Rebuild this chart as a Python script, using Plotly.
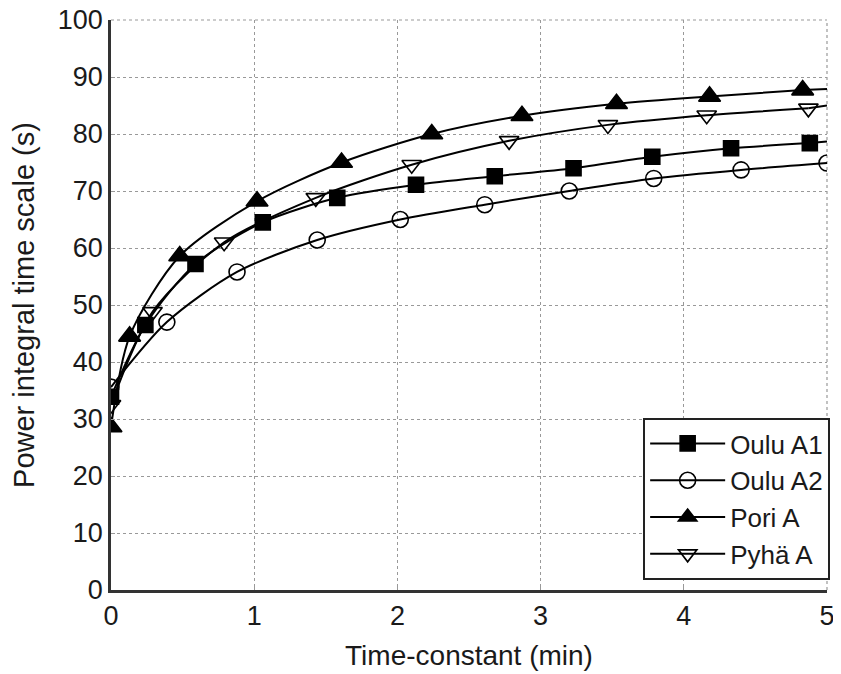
import plotly.graph_objects as go

# Data
a1_x = [0.0, 0.24, 0.59, 1.06, 1.58, 2.13, 2.68, 3.23, 3.78, 4.33, 4.88]
a1_y = [33.9, 46.5, 57.2, 64.5, 68.8, 71.1, 72.6, 74.0, 76.0, 77.5, 78.4]
a2_x = [0.0, 0.39, 0.88, 1.44, 2.02, 2.61, 3.20, 3.79, 4.40, 5.0]
a2_y = [35.6, 47.0, 55.8, 61.4, 65.0, 67.6, 70.0, 72.2, 73.7, 74.9]
pori_x = [0.0, 0.13, 0.48, 1.02, 1.61, 2.24, 2.87, 3.53, 4.18, 4.83]
pori_y = [28.6, 44.5, 58.6, 68.2, 75.0, 80.0, 83.2, 85.3, 86.6, 87.7]
pyha_x = [0.0, 0.29, 0.79, 1.43, 2.10, 2.78, 3.47, 4.16, 4.87]
pyha_y = [32.5, 48.8, 61.0, 68.8, 74.6, 78.8, 81.6, 83.3, 84.5]

# curve values at the right edge (x = 5)
end_x = 5.0
a1_end = 78.7
pori_end = 87.9
pyha_end = 85.0

x_ticks = [0, 1, 2, 3, 4, 5]
y_ticks = [0, 10, 20, 30, 40, 50, 60, 70, 80, 90, 100]

series = [
    ("Oulu A1", a1_x, a1_y, a1_end, "square", "black", 15),
    ("Oulu A2", a2_x, a2_y, None, "circle-open", "black", 16),
    ("Pori A", pori_x, pori_y, pori_end, "triangle-up", "black", 19),
    ("Pyhä A", pyha_x, pyha_y, pyha_end, "triangle-down-open", "black", 17),
]

fig = go.Figure()
for name, xs, ys, end_y, sym, col, size in series:
    fig.add_trace(go.Scatter(
        x=xs, y=ys, name=name, mode="lines+markers",
        line=dict(color="black", width=2, shape="spline", smoothing=0.8),
        marker=dict(symbol=sym, size=size, color=col,
                    line=dict(color="black", width=1.6)),
    ))
    if end_y is not None:
        fig.add_trace(go.Scatter(
            x=[xs[-1], end_x], y=[ys[-1], end_y], mode="lines",
            line=dict(color="black", width=2), showlegend=False,
            hoverinfo="skip",
        ))

grid_col = "#999"
font_family = "Liberation Sans, Arial, sans-serif"
fig.update_layout(
    width=833, height=666,
    margin=dict(l=103, r=13, t=12, b=84),
    paper_bgcolor="white", plot_bgcolor="white",
    font=dict(family=font_family, size=27, color="#1a1a1a"),
    showlegend=True,
    legend=dict(
        x=1.003, y=0.0175, xanchor="right", yanchor="bottom",
        bgcolor="white", bordercolor="#222", borderwidth=2,
        font=dict(size=26, color="#1a1a1a"),
        tracegroupgap=0, itemwidth=75,
    ),
)
# dotted frame lines at the top and right edges (like the grid)
fig.add_shape(type="line", xref="paper", yref="paper", x0=0, x1=1, y0=1, y1=1,
              line=dict(color=grid_col, width=1.2, dash="dot"), layer="below")
fig.add_shape(type="line", xref="paper", yref="paper", x0=1, x1=1, y0=0, y1=1,
              line=dict(color=grid_col, width=1.2, dash="dot"), layer="below")
fig.update_xaxes(
    range=[0, 5], tickvals=x_ticks, ticktext=[str(v) for v in x_ticks],
    showgrid=True, gridcolor=grid_col, griddash="dot", gridwidth=1.2,
    showline=True, linecolor="#333", linewidth=2.5, mirror=False,
    ticks="inside", ticklen=4, tickcolor=grid_col,
    zeroline=False, automargin=False, ticklabeloverflow="allow",
    title=dict(text="Time-constant (min)", font=dict(size=28), standoff=16),
    tickfont=dict(size=27),
)
fig.update_yaxes(
    range=[0, 100], tickvals=y_ticks, ticktext=[str(v) for v in y_ticks],
    showgrid=True, gridcolor=grid_col, griddash="dot", gridwidth=1.2,
    showline=True, linecolor="#333", linewidth=2.5, mirror=False,
    ticks="inside", ticklen=4, tickcolor=grid_col,
    zeroline=False, automargin=False, ticklabeloverflow="allow",
    title=dict(text="Power integral time scale (s)", font=dict(size=29), standoff=24),
    tickfont=dict(size=27),
)

fig.write_html("out.html")
